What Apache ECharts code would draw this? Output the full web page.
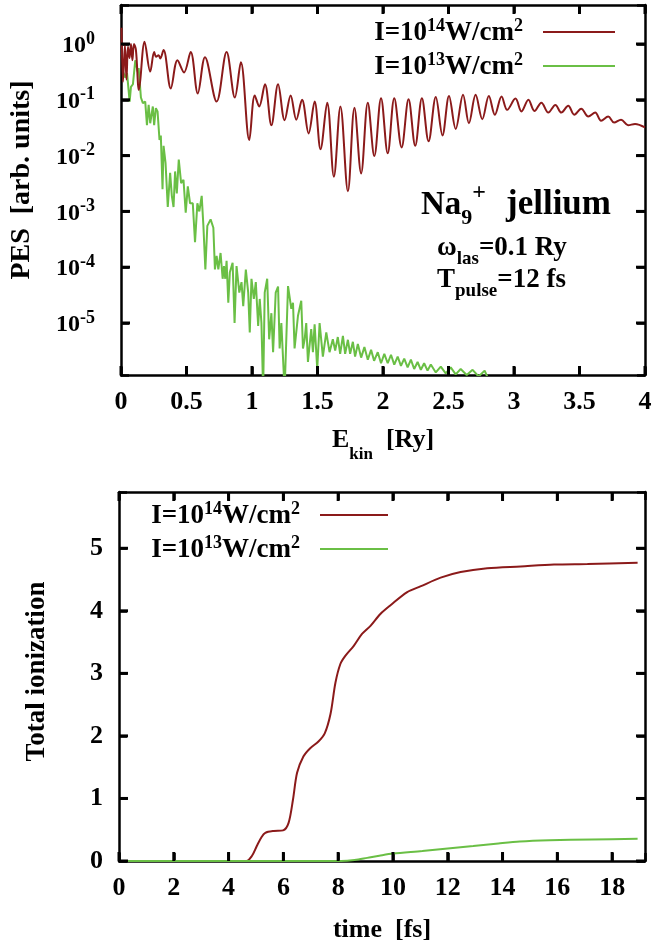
<!DOCTYPE html>
<html><head><meta charset="utf-8">
<script src="https://cdn.jsdelivr.net/npm/echarts@6/dist/echarts.min.js"></script>
<style>html,body{margin:0;padding:0;background:#fff}#c{width:656px;height:947px}</style>
</head><body><div id="c"></div>
<script>
// ---- Top panel: photoelectron spectra (E_kin in Ry, PES in arb. units) ----
const pesEnergy14 = [0.004,0.015,0.030,0.042,0.053,0.065,0.076,0.087,0.099,0.114,0.137,0.180,0.223,0.253,0.268,0.287,0.300,0.325,0.380,0.431,0.481,0.532,0.586,0.641,0.730,0.806,0.869,0.915,0.979,1.021,1.055,1.099,1.148,1.199,1.249,1.295,1.338,1.382,1.432,1.478,1.523,1.574,1.625,1.675,1.732,1.782,1.833,1.884,1.934,1.985,2.036,2.086,2.142,2.195,2.246,2.297,2.348,2.403,2.454,2.504,2.555,2.611,2.656,2.707,2.758,2.808,2.854,2.905,2.948,3.011,3.057,3.110,3.156,3.209,3.262,3.316,3.361,3.414,3.460,3.513,3.567,3.620,3.665,3.719,3.764,3.817,3.871,3.924,4.0];
const pesValue14 = [1.95,0.21,0.95,0.23,0.89,0.56,1.0,0.51,1.0,0.78,0.15,1.1,0.32,0.72,0.59,0.63,0.55,0.78,0.16,0.51,0.31,0.72,0.13,0.58,0.093,0.72,0.11,0.47,0.019,0.12,0.076,0.19,0.035,0.19,0.043,0.12,0.044,0.10,0.025,0.093,0.013,0.089,0.0042,0.076,0.0023,0.072,0.0048,0.089,0.0098,0.107,0.011,0.107,0.014,0.102,0.015,0.107,0.018,0.112,0.023,0.117,0.030,0.123,0.038,0.123,0.045,0.117,0.054,0.115,0.066,0.105,0.062,0.100,0.063,0.089,0.059,0.081,0.059,0.078,0.054,0.069,0.050,0.059,0.042,0.050,0.039,0.044,0.035,0.037,0.032];
const pesEnergy13 = [0.015,0.033,0.046,0.066,0.076,0.091,0.109,0.127,0.135,0.152,0.167,0.185,0.198,0.211,0.223,0.243,0.253,0.266,0.279,0.294,0.304,0.317,0.325,0.340,0.357,0.375,0.388,0.401,0.413,0.426,0.441,0.459,0.477,0.494,0.510,0.527,0.548,0.565,0.583,0.598,0.616,0.629,0.644,0.659,0.684,0.705,0.717,0.730,0.743,0.760,0.776,0.786,0.796,0.806,0.819,0.831,0.852,0.867,0.882,0.903,0.920,0.933,0.953,0.971,0.983,0.996,1.014,1.029,1.047,1.059,1.072,1.085,1.097,1.116,1.131,1.148,1.161,1.181,1.199,1.211,1.224,1.249,1.275,1.300,1.313,1.325,1.351,1.376,1.389,1.402,1.414,1.427,1.452,1.465,1.478,1.498,1.516,1.541,1.567,1.592,1.617,1.635,1.655,1.673,1.694,1.711,1.732,1.749,1.770,1.787,1.808,1.833,1.858,1.884,1.909,1.932,1.960,1.985,2.010,2.036,2.061,2.086,2.112,2.137,2.162,2.188,2.213,2.238,2.264,2.289,2.314,2.340,2.365,2.403,2.441,2.479,2.517,2.555,2.593,2.639,2.684,2.730,2.776,2.821];
const pesValue13 = [3.2e-1,2.5e-1,3.0e-1,9.3e-2,1.7e-1,1.9e-1,5.1e-1,3.2e-1,3.7e-1,1.1e-1,8.7e-2,9.3e-2,3.5e-2,8.1e-2,3.8e-2,7.6e-2,3.5e-2,7.1e-2,6.2e-2,1.9e-2,2.3e-2,2.5e-3,1.5e-2,7.4e-3,1.2e-3,4.9e-3,1.9e-3,1.2e-3,5.2e-3,2.1e-3,8.5e-3,3.2e-3,3.7e-3,9.5e-4,2.8e-3,1.4e-3,1.4e-3,2.8e-4,1.4e-3,1.0e-3,1.9e-3,5.5e-4,9.1e-5,5.5e-4,7.2e-4,5.1e-4,9.1e-5,1.6e-4,9.1e-5,1.8e-4,6.2e-5,1.05e-4,6.2e-5,1.3e-4,2.3e-5,8.1e-5,1.2e-4,1.0e-5,1.05e-4,3.5e-5,5.4e-5,2.0e-5,9.1e-5,3.5e-5,6.8e-6,6.2e-5,2.7e-5,5.4e-5,8.9e-6,2.7e-5,1.0e-5,6e-7,3.5e-5,6.2e-5,5.1e-6,1.5e-5,3.0e-6,3.5e-5,4.5e-5,3.5e-6,1.0e-5,6e-7,4.6e-5,1.8e-5,2.3e-5,3.5e-6,1.35e-5,2.5e-5,3.5e-6,5.1e-6,1.0e-5,2.0e-6,7.8e-6,3.0e-6,9.5e-6,1.5e-6,1.0e-5,2.5e-6,6.8e-6,3.0e-6,5.1e-6,3.2e-6,5.6e-6,2.8e-6,5.9e-6,2.8e-6,5.0e-6,2.8e-6,4.6e-6,2.5e-6,4.2e-6,2.4e-6,3.7e-6,2.2e-6,3.3e-6,2.1e-6,3.0e-6,1.9e-6,2.8e-6,1.9e-6,2.7e-6,1.8e-6,2.5e-6,1.7e-6,2.3e-6,1.6e-6,2.2e-6,1.5e-6,2.0e-6,1.45e-6,1.9e-6,1.4e-6,1.8e-6,1.3e-6,1.65e-6,1.25e-6,1.6e-6,1.2e-6,1.5e-6,1.17e-6,1.45e-6,1.1e-6,1.4e-6,8e-7];
const pesExponents = [0,-1,-2,-3,-4,-5];
const pesXTicks = [0,0.5,1,1.5,2,2.5,3,3.5,4];

// ---- Bottom panel: total ionization vs time (fs) ----
const ionTime14 = [0,4.65,4.85,5.03,5.2,5.34,5.65,5.99,6.19,6.35,6.5,6.73,6.97,7.28,7.51,7.72,7.90,8.08,8.26,8.57,8.87,9.18,9.54,9.91,10.52,11.0,11.74,12.47,13.44,14.66,15.88,17.1,18.93];
const ionValue14 = [0,0,0.08,0.24,0.38,0.45,0.48,0.49,0.61,0.98,1.41,1.67,1.8,1.91,2.04,2.35,2.85,3.15,3.28,3.44,3.63,3.76,3.95,4.09,4.30,4.39,4.53,4.62,4.68,4.71,4.74,4.75,4.77];
const ionTime13 = [0,8.1,8.6,9.06,9.5,10.0,11.07,12.0,12.93,13.85,14.63,15.71,17.26,18.93];
const ionValue13 = [0,0,0.015,0.05,0.085,0.12,0.16,0.2,0.24,0.28,0.31,0.33,0.345,0.355];
const ionXTicks = [0,2,4,6,8,10,12,14,16,18];
const ionYTicks = [0,1,2,3,4,5];

const legendLabels = {
  pes14: '{b|I=10}{s|14}{b|W/cm}{s|2}{g|}', pes13: '{b|I=10}{s|13}{b|W/cm}{s|2}{g|}',
  ion14: '{b|I=10}{s|14}{b|W/cm}{s|2}{g|}', ion13: '{b|I=10}{s|13}{b|W/cm}{s|2}{g|}'
};

// axis ranges (frame of each panel)
const PES_X = [0, 4], PES_Y = [1.17e-6, 5.0];
const ION_X = [0, 19.2], ION_Y = [0, 5.9];

const FONT = 'Liberation Serif';
const RED = '#8b1a1a', GREEN = '#6abf45';
const zip = (xs, ys) => xs.map((x, i) => [x, ys[i]]);

const tickRich = {
  b: {fontFamily: FONT, fontWeight: 'bold', fontSize: 24, color: '#000', lineHeight: 28, verticalAlign: 'bottom'},
  s: {fontFamily: FONT, fontWeight: 'bold', fontSize: 18, color: '#000', lineHeight: 18, verticalAlign: 'top'}
};
const legendRich = {
  b: {fontFamily: FONT, fontWeight: 'bold', fontSize: 27, color: '#000', lineHeight: 30, verticalAlign: 'bottom'},
  s: {fontFamily: FONT, fontWeight: 'bold', fontSize: 18, color: '#000', lineHeight: 18, verticalAlign: 'top'},
  g: {width: 15}
};

const axisLine = () => ({show: true, onZero: false, lineStyle: {color: '#000', width: 2.5}});
const axisTick = () => ({show: true, inside: true, length: 8, lineStyle: {color: '#000', width: 2.5}});
const numLabel = {fontFamily: FONT, fontWeight: 'bold', fontSize: 26, color: '#000'};
const xTitle = {fontFamily: FONT, fontWeight: 'bold', fontSize: 26, color: '#000'};

// Mirrored inward tick marks on all four sides (side codes 1..4: bottom, top, left, right),
// placed through the axes' own coordinate mapping.
function tickItems(xTicks, yTicks) {
  const items = [];
  xTicks.forEach(v => { items.push([v, 1]); items.push([v, 2]); });
  yTicks.forEach(v => { items.push([v, 3]); items.push([v, 4]); });
  return items;
}
function tickRenderer(xr, yr) {
  const L = 9;
  return function (params, api) {
    const v = api.value(0), side = api.value(1);
    let p, d;
    if (side === 1) { p = api.coord([v, yr[0]]); d = [0, -L]; }
    else if (side === 2) { p = api.coord([v, yr[1]]); d = [0, L]; }
    else if (side === 3) { p = api.coord([xr[0], v]); d = [L, 0]; }
    else { p = api.coord([xr[1], v]); d = [-L, 0]; }
    return {type: 'line', z2: 100, shape: {x1: p[0], y1: p[1], x2: p[0] + d[0], y2: p[1] + d[1]},
            style: {stroke: '#000', lineWidth: 3}};
  };
}

const chart = echarts.init(document.getElementById('c'), null, {renderer: 'canvas'});
chart.setOption({
  animation: false,
  backgroundColor: '#fff',
  grid: [
    {left: 119, top: 5, width: 526, height: 370},
    {left: 119, top: 492, width: 526, height: 369}
  ],
  xAxis: [
    {gridIndex: 0, type: 'value', min: PES_X[0], max: PES_X[1], interval: 0.5,
     axisLine: axisLine(), axisTick: axisTick(), splitLine: {show: false},
     axisLabel: Object.assign({margin: 14, formatter: v => pesXTicks.indexOf(+v.toFixed(3)) >= 0 ? String(+v.toFixed(3)) : ''}, numLabel),
     name: '{b|E}{sub|kin}{b|  [Ry]}', nameLocation: 'middle', nameGap: 52,
     nameTextStyle: {rich: {
       b: {fontFamily: FONT, fontWeight: 'bold', fontSize: 26, color: '#000', lineHeight: 36, verticalAlign: 'top'},
       sub: {fontFamily: FONT, fontWeight: 'bold', fontSize: 17, color: '#000', lineHeight: 17, verticalAlign: 'bottom'}}}},
    {gridIndex: 0, type: 'value', position: 'top', min: PES_X[0], max: PES_X[1], interval: 0.5,
     axisLine: axisLine(), axisTick: axisTick(), axisLabel: {show: false}, splitLine: {show: false}},
    {gridIndex: 1, type: 'value', min: ION_X[0], max: ION_X[1], interval: 2,
     axisLine: axisLine(), axisTick: axisTick(), splitLine: {show: false},
     axisLabel: Object.assign({margin: 14, formatter: v => ionXTicks.indexOf(v) >= 0 ? String(v) : ''}, numLabel),
     name: 'time  [fs]', nameLocation: 'middle', nameGap: 56, nameTextStyle: xTitle},
    {gridIndex: 1, type: 'value', position: 'top', min: ION_X[0], max: ION_X[1], interval: 2,
     axisLine: axisLine(), axisTick: axisTick(), axisLabel: {show: false}, splitLine: {show: false}}
  ],
  yAxis: [
    {gridIndex: 0, type: 'log', min: PES_Y[0], max: PES_Y[1], logBase: 10,
     axisLine: axisLine(), axisTick: axisTick(), splitLine: {show: false}, minorTick: {show: false},
     axisLabel: {margin: 26, rich: tickRich, formatter: v => {
       const e = Math.round(Math.log10(v));
       if (Math.abs(Math.log10(v) - e) > 1e-6 || pesExponents.indexOf(e) < 0) return '';
       return '{b|10}{s|' + e + '}';
     }},
     name: 'PES  [arb. units]', nameLocation: 'middle', nameGap: 85,
     nameTextStyle: {fontFamily: FONT, fontWeight: 'bold', fontSize: 28, color: '#000', padding: [0, 0, 0, 20]}},
    {gridIndex: 0, type: 'log', position: 'right', min: PES_Y[0], max: PES_Y[1], logBase: 10,
     axisLine: axisLine(), axisTick: axisTick(), axisLabel: {show: false}, splitLine: {show: false}},
    {gridIndex: 1, type: 'value', min: ION_Y[0], max: ION_Y[1], interval: 1,
     axisLine: axisLine(), axisTick: axisTick(), splitLine: {show: false},
     axisLabel: Object.assign({margin: 16, formatter: v => ionYTicks.indexOf(v) >= 0 ? String(v) : ''}, numLabel),
     name: 'Total ionization', nameLocation: 'middle', nameGap: 68,
     nameTextStyle: {fontFamily: FONT, fontWeight: 'bold', fontSize: 27, color: '#000', padding: [0, 0, 0, 10]}},
    {gridIndex: 1, type: 'value', position: 'right', min: ION_Y[0], max: ION_Y[1], interval: 1,
     axisLine: axisLine(), axisTick: axisTick(), axisLabel: {show: false}, splitLine: {show: false}}
  ],
  legend: [
    {data: ['pes14', 'pes13'], orient: 'vertical', right: 41, top: 17, align: 'right', padding: 0,
     icon: 'rect', itemWidth: 72, itemHeight: 2, itemGap: 4, formatter: n => legendLabels[n], textStyle: {rich: legendRich}},
    {data: ['ion14', 'ion13'], orient: 'vertical', right: 268, top: 500, align: 'right', padding: 0,
     icon: 'rect', itemWidth: 68, itemHeight: 2, itemGap: 4, formatter: n => legendLabels[n], textStyle: {rich: legendRich}}
  ],
  series: [
    {name: 'pes14', type: 'line', xAxisIndex: 0, yAxisIndex: 0, data: zip(pesEnergy14, pesValue14),
     showSymbol: false, symbol: 'none', smooth: 0.35, lineStyle: {color: RED, width: 2}, itemStyle: {color: RED}, z: 3},
    {name: 'pes13', type: 'line', xAxisIndex: 0, yAxisIndex: 0, data: zip(pesEnergy13, pesValue13),
     showSymbol: false, symbol: 'none', lineStyle: {color: GREEN, width: 2}, itemStyle: {color: GREEN}, z: 2},
    {name: 'ion14', type: 'line', xAxisIndex: 2, yAxisIndex: 2, data: zip(ionTime14, ionValue14),
     showSymbol: false, symbol: 'none', smooth: 0.3, lineStyle: {color: RED, width: 2}, itemStyle: {color: RED}},
    {name: 'ion13', type: 'line', xAxisIndex: 2, yAxisIndex: 2, data: zip(ionTime13, ionValue13),
     showSymbol: false, symbol: 'none', smooth: 0.3, lineStyle: {color: GREEN, width: 2}, itemStyle: {color: GREEN}},
    {name: 'pesTicks', type: 'custom', xAxisIndex: 0, yAxisIndex: 0, silent: true, z: 10, clip: false,
     data: tickItems(pesXTicks, pesExponents.map(e => Math.pow(10, e))), renderItem: tickRenderer(PES_X, PES_Y)},
    {name: 'ionTicks', type: 'custom', xAxisIndex: 2, yAxisIndex: 2, silent: true, z: 10, clip: false,
     data: tickItems(ionXTicks, ionYTicks), renderItem: tickRenderer(ION_X, ION_Y)}
  ],
  graphic: [
    {type: 'text', x: 421, y: 205, style: {
      text: '{a|Na}{sub|9}{sup|+}{g|}{j|jellium}', verticalAlign: 'middle', align: 'left',
      rich: {
        a: {fontFamily: FONT, fontWeight: 'bold', fontSize: 33, fill: '#000', lineHeight: 48, verticalAlign: 'middle'},
        j: {fontFamily: FONT, fontWeight: 'bold', fontSize: 35, fill: '#000', lineHeight: 48, verticalAlign: 'middle'},
        sub: {fontFamily: FONT, fontWeight: 'bold', fontSize: 22, fill: '#000', lineHeight: 22, verticalAlign: 'bottom'},
        sup: {fontFamily: FONT, fontWeight: 'bold', fontSize: 24, fill: '#000', lineHeight: 22, verticalAlign: 'top'},
        g: {width: 20}
      }}},
    {type: 'text', x: 437, y: 252, style: {
      text: '{a|ω}{sub|las}{a|=0.1 Ry}', verticalAlign: 'middle', align: 'left',
      rich: {
        a: {fontFamily: FONT, fontWeight: 'bold', fontSize: 27, fill: '#000', lineHeight: 34, verticalAlign: 'top'},
        sub: {fontFamily: FONT, fontWeight: 'bold', fontSize: 19, fill: '#000', lineHeight: 18, verticalAlign: 'bottom'}
      }}},
    {type: 'text', x: 437, y: 284, style: {
      text: '{a|T}{sub|pulse}{a|=12 fs}', verticalAlign: 'middle', align: 'left',
      rich: {
        a: {fontFamily: FONT, fontWeight: 'bold', fontSize: 27, fill: '#000', lineHeight: 34, verticalAlign: 'top'},
        sub: {fontFamily: FONT, fontWeight: 'bold', fontSize: 19, fill: '#000', lineHeight: 18, verticalAlign: 'bottom'}
      }}}
  ]
});
</script></body></html>
